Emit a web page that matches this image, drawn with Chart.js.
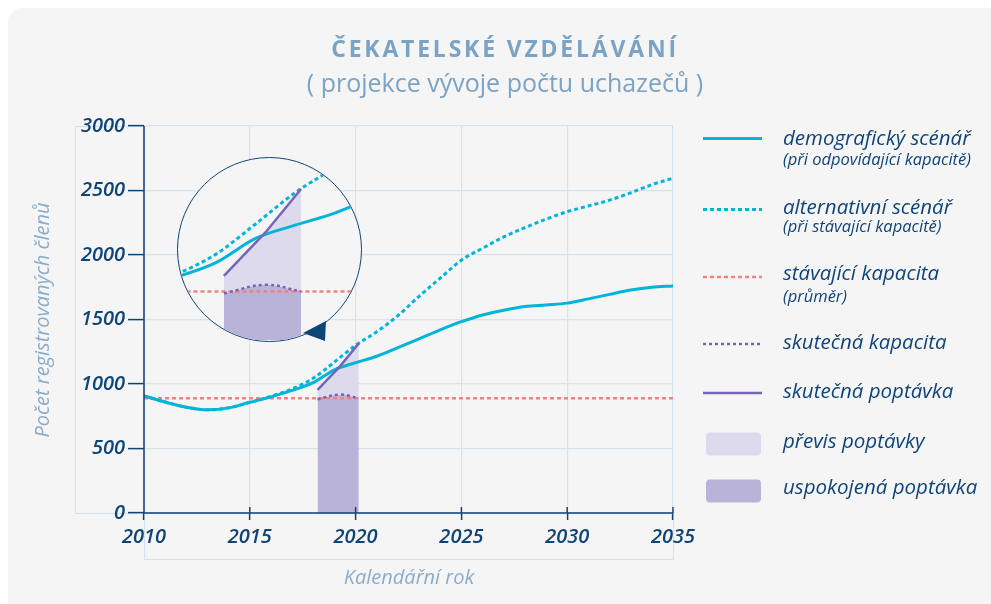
<!DOCTYPE html>
<html lang="cs">
<head>
<meta charset="utf-8">
<title>Čekatelské vzdělávání</title>
<script src="https://cdn.jsdelivr.net/npm/chart.js@4.4.0/dist/chart.umd.min.js"></script>
<style>
  html, body { margin: 0; padding: 0; background: #fff; }
  #stage { position: relative; width: 991px; height: 604px; overflow: hidden; font-family: 'Open Sans', sans-serif; }
  #panel { position: absolute; left: 8px; top: 8px; right: 0; bottom: 0; background: #f5f5f5; border-top-left-radius: 14px; }
  #main { position: absolute; left: 0; top: 0; }
  .nadpis { position: absolute; left: 0; width: 1010px; text-align: center; color: #7aa3c5; line-height: 1; white-space: nowrap; }
  #titulek { top: 37px; font-weight: 700; font-size: 23px; letter-spacing: 2.8px; }
  #podtitulek { top: 70px; font-size: 25px; }
  #lupa { position: absolute; left: 177px; top: 157px; width: 185px; height: 185px; box-sizing: border-box;
          border: 1.5px solid #0d4577; border-radius: 50%; overflow: hidden; background: #f5f5f5; }
  #lupa canvas { display: block; }
  #sipka { position: absolute; left: 0; top: 0; }
</style>
</head>
<body>
<div id="stage">
  <div id="panel"></div>
  <canvas id="main" width="991" height="604"></canvas>
  <div id="titulek" class="nadpis">ČEKATELSKÉ VZDĚLÁVÁNÍ</div>
  <div id="podtitulek" class="nadpis">( projekce vývoje počtu uchazečů )</div>
  <div id="lupa"><canvas id="detail" width="182" height="182"></canvas></div>
  <svg id="sipka" width="991" height="604"><polygon points="303,333 326,321 325,341" fill="#0d4577"/></svg>
</div>
<script>
// === DATA ===
const roky = [2010, 2011, 2012, 2013, 2014, 2015, 2016, 2017, 2018, 2019, 2020, 2021, 2022,
              2023, 2024, 2025, 2026, 2027, 2028, 2029, 2030, 2031, 2032, 2033, 2034, 2035];
const demografickyScenar = [908, 860, 820, 800, 815, 858, 900, 950, 1010, 1110, 1165, 1215, 1282,
                            1350, 1420, 1483, 1535, 1572, 1600, 1613, 1627, 1660, 1695, 1728, 1750, 1760];
const alternativniScenar = [908, 860, 820, 800, 815, 858, 905, 962, 1045, 1170, 1300, 1405, 1530,
                            1680, 1820, 1960, 2052, 2140, 2212, 2278, 2336, 2380, 2425, 2482, 2545, 2595];
const stavajiciRoky = [2010, 2035];
const stavajiciKapacita = [890, 890];
const skutecneRoky = [2018.2, 2019.25, 2020.15];
const skutecnaKapacita = [882, 918, 890];
const skutecnaPoptavka = [955, 1135, 1315];

const osaY = [0, 3000, 500];          // min, max, krok
const osaX = [2010, 2035, 5];
const legendaNazvy = ['demografický scénář', 'alternativní scénář', 'stávající kapacita',
                      'skutečná kapacita', 'skutečná poptávka', 'převis poptávky', 'uspokojená poptávka'];
const legendaPoznamky = ['(při odpovídající kapacitě)', '(při stávající kapacitě)', '(průměr)', '', '', '', ''];

// === BARVY ===
const navy = '#0f4479';
const cyan = '#00b5d9';
const purple = '#7866b4';
const salmon = '#f77f7f';
const gridColor = '#d9e1ea';
const titleColor = '#8aaccb';
const pismo = "'Open Sans'";

const body = (xs, ys) => xs.map((x, i) => ({ x: x, y: ys[i] }));

function makeDatasets() {
  return [
    { label: legendaNazvy[4], data: body(skutecneRoky, skutecnaPoptavka), borderColor: purple,
      borderWidth: 2.5, backgroundColor: '#dedaed', fill: 1, tension: 0 },
    { label: legendaNazvy[3], data: body(skutecneRoky, skutecnaKapacita), borderColor: purple,
      borderWidth: 2.5, borderDash: [3, 3], backgroundColor: '#bab3d8', fill: 'origin', tension: 0.4 },
    { label: legendaNazvy[0], data: body(roky, demografickyScenar), borderColor: cyan,
      borderWidth: 3, fill: false, cubicInterpolationMode: 'monotone' },
    { label: legendaNazvy[1], data: body(roky, alternativniScenar), borderColor: cyan,
      borderWidth: 3, borderDash: [4, 3], fill: false, cubicInterpolationMode: 'monotone' },
    { label: legendaNazvy[2], data: body(stavajiciRoky, stavajiciKapacita), borderColor: salmon,
      borderWidth: 2.5, borderDash: [4, 3], fill: false }
  ];
}

const tickFont = { family: pismo, size: 20, style: 'italic', weight: '600' };

// ramecky os, osy a popisky
const ramecek = {
  id: 'ramecek',
  beforeDraw(chart) {
    const ctx = chart.ctx;
    ctx.save();
    ctx.strokeStyle = gridColor;
    ctx.lineWidth = 1.2;
    ['x', 'y'].forEach(k => {
      const s = chart.scales[k];
      ctx.strokeRect(s.left + 0.5, s.top + 0.5, s.right - s.left, s.bottom - s.top);
    });
    ctx.restore();
  },
  afterDraw(chart) {
    const ctx = chart.ctx;
    const a = chart.chartArea;
    const sx = chart.scales.x;
    ctx.save();
    ctx.strokeStyle = navy;
    ctx.lineWidth = 1.5;
    ctx.beginPath();
    ctx.moveTo(a.left, a.top);
    ctx.lineTo(a.left, a.bottom);
    ctx.lineTo(a.right, a.bottom);
    sx.ticks.forEach(t => {
      const px = sx.getPixelForValue(t.value);
      ctx.moveTo(px, a.bottom - 6);
      ctx.lineTo(px, a.bottom);
    });
    ctx.stroke();

    // popisky os
    ctx.fillStyle = titleColor;
    ctx.font = 'italic 20px ' + pismo;
    ctx.textAlign = 'center';
    ctx.textBaseline = 'middle';
    ctx.fillText('Kalendářní rok', 409, 578);
    ctx.translate(43, 320);
    ctx.rotate(-Math.PI / 2);
    ctx.fillText('Počet registrovaných členů', 0, 0);
    ctx.restore();
  }
};

// legenda vpravo
const legenda = {
  id: 'legenda',
  afterDraw(chart) {
    const ctx = chart.ctx;
    const ds = chart.data.datasets;
    const radky = [
      { d: 2, y: 138.5, b: 145, p: 165 },
      { d: 3, y: 209.5, b: 213.5, p: 232 },
      { d: 4, y: 277, b: 280, p: 301.5 },
      { d: 1, y: 344, b: 348.5 },
      { d: 0, y: 393, b: 397.5 },
      { d: 0, box: true, y: 432.5, b: 447.5 },
      { d: 1, box: true, y: 479.5, b: 493.5 }
    ];
    ctx.save();
    radky.forEach((r, i) => {
      const d = ds[r.d];
      if (r.box) {
        ctx.fillStyle = d.backgroundColor;
        ctx.beginPath();
        ctx.roundRect(706, r.y, 55, 23, 4);
        ctx.fill();
      } else {
        ctx.strokeStyle = d.borderColor;
        ctx.lineWidth = d.borderWidth;
        ctx.setLineDash(d.borderDash || []);
        ctx.beginPath();
        ctx.moveTo(703, r.y);
        ctx.lineTo(762, r.y);
        ctx.stroke();
        ctx.setLineDash([]);
      }
      ctx.fillStyle = navy;
      ctx.textAlign = 'left';
      ctx.textBaseline = 'alphabetic';
      ctx.font = 'italic 20.5px ' + pismo;
      ctx.fillText(legendaNazvy[i], 783, r.b);
      if (legendaPoznamky[i]) {
        ctx.font = 'italic 16.5px ' + pismo;
        ctx.fillText(legendaPoznamky[i], 783, r.p);
      }
    });
    ctx.restore();
  }
};

const hlavni = new Chart(document.getElementById('main'), {
  type: 'line',
  data: { datasets: makeDatasets() },
  options: {
    responsive: false,
    animation: false,
    layout: { padding: { left: 75, top: 126, right: 318, bottom: 45 } },
    elements: { point: { radius: 0 } },
    plugins: {
      legend: { display: false },
      tooltip: { enabled: false },
      filler: { drawTime: 'beforeDatasetsDraw' }
    },
    scales: {
      x: {
        type: 'linear', min: osaX[0], max: osaX[1],
        afterFit: s => { s.height = 46; },
        ticks: { stepSize: osaX[2], callback: v => String(v), color: navy, font: tickFont, padding: 5, maxRotation: 0 },
        grid: { color: gridColor, lineWidth: 1.2, tickColor: navy, tickLength: 7, tickWidth: 1.5 },
        border: { display: false }
      },
      y: {
        min: osaY[0], max: osaY[1],
        afterFit: s => { s.width = 69; },
        ticks: { stepSize: osaY[2], callback: v => String(v), color: navy, font: tickFont, padding: 3 },
        grid: { color: gridColor, lineWidth: 1.2, tickColor: navy, tickLength: 16, tickWidth: 1.5 },
        border: { display: false }
      }
    }
  },
  plugins: [ramecek, legenda]
});

// === LUPA: zvetseny vyrez 2017-2021 ===
const detail = new Chart(document.getElementById('detail'), {
  type: 'line',
  data: { datasets: makeDatasets() },
  options: {
    responsive: false,
    animation: false,
    layout: { padding: 0 },
    elements: { point: { radius: 0 } },
    plugins: {
      legend: { display: false },
      tooltip: { enabled: false },
      filler: { drawTime: 'beforeDatasetsDraw' }
    },
    scales: {
      x: { type: 'linear', min: 2017.04, max: 2021.64, display: false },
      y: { min: 689, max: 1443.6, display: false }
    }
  }
});
</script>
</body>
</html>
